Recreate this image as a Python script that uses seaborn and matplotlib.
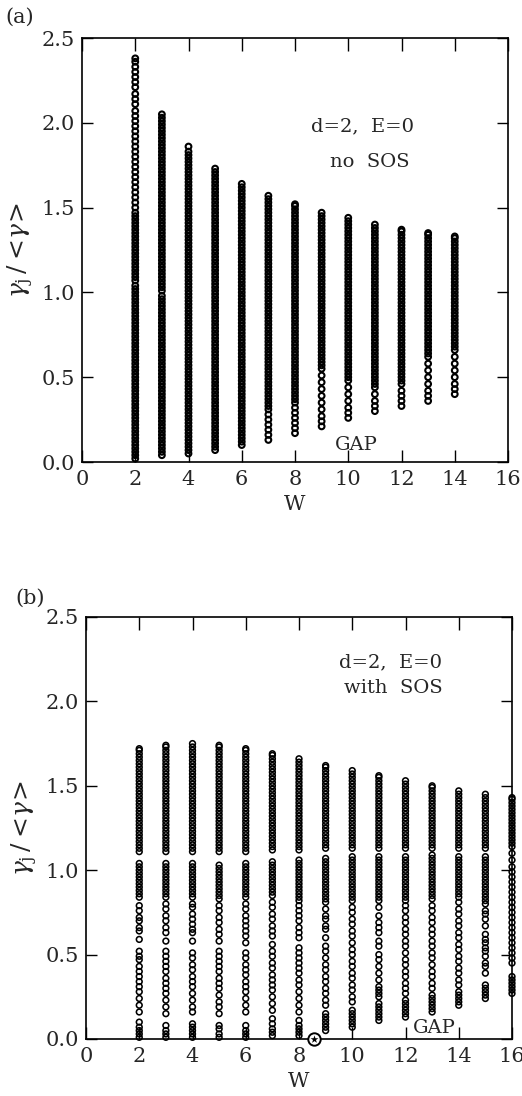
import matplotlib
matplotlib.use("Agg")
import matplotlib.pyplot as plt
import seaborn as sns
import pandas as pd

# ---------------- data (values in units of 0.01) ----------------
W_A = [2, 3, 4, 5, 6, 7, 8, 9, 10, 11, 12, 13, 14]
A2 = [2,4,6,8,10,12,14,16,18,20,22,24,26,28,30,32,34,36,38,40,42,44,46,48,50,52,54,56,58,60,62,64,66,68,70,72,74,76,78,80,82,84,86,88,90,92,94,96,98,100,102,104,107,109,111,113,115,117,119,121,123,125,127,129,131,133,135,137,139,141,143,145,147,150,153,156,159,162,165,168,171,174,177,180,183,186,189,192,195,198,201,204,207,211,214,217,221,224,227,230,233,236,238]
A3 = [4,6,8,10,12,14,16,18,20,22,24,26,28,30,32,34,36,38,40,42,44,46,48,50,52,54,56,58,60,62,64,66,68,70,72,74,76,78,80,82,84,86,88,90,92,94,96,98,101,103,105,107,109,111,113,115,117,119,121,123,125,127,129,131,133,135,137,139,141,143,145,147,149,151,153,155,157,159,161,163,165,167,169,171,173,175,177,179,181,183,185,187,189,191,193,195,197,199,201,203,205]
A4 = [5,7,9,11,13,15,17,19,21,23,25,27,29,31,33,35,37,39,41,43,45,47,49,51,53,55,57,59,61,63,65,67,69,71,73,75,77,79,81,83,85,87,89,91,93,95,97,99,101,103,105,107,109,111,113,115,117,119,121,123,125,127,129,131,133,135,137,139,141,143,145,147,149,151,153,155,157,159,161,163,165,167,169,171,173,175,177,179,181,183,186]
A5 = [7,9,11,13,15,17,19,21,23,25,27,29,31,33,35,37,39,41,43,45,47,49,51,53,55,57,59,61,63,65,67,69,71,73,75,77,79,81,83,85,87,89,91,93,95,97,99,101,103,105,107,109,111,113,115,117,119,121,123,125,127,129,131,133,135,137,139,141,143,145,147,149,151,153,155,157,159,161,163,165,167,169,171,173]
A6 = [10,12,14,16,18,20,22,24,26,28,30,32,34,36,38,40,42,44,46,48,50,52,54,56,58,60,62,64,66,68,70,72,74,76,78,80,82,84,86,88,90,92,94,96,98,100,102,104,106,108,110,112,114,116,118,120,122,124,126,128,130,132,134,136,138,140,142,144,146,148,150,152,154,156,158,160,162,164]
A7 = [13,16,19,22,25,28,31,33,35,37,39,41,43,45,47,49,51,53,55,57,59,61,63,65,67,69,71,73,75,77,79,81,83,85,87,89,91,93,95,97,99,101,103,105,107,109,111,113,115,117,119,121,123,125,127,129,131,133,135,137,139,141,143,145,147,149,151,153,155,157]
A8 = [17,20,23,26,29,32,35,37,39,41,43,45,47,49,51,53,55,57,59,61,63,65,67,69,71,73,75,77,79,81,83,85,87,89,91,93,95,97,99,101,103,105,107,109,111,113,115,117,119,121,123,125,127,129,131,133,135,137,139,141,143,145,147,149,151,152]
A9 = [21,24,27,31,35,39,43,47,51,55,57,59,61,63,65,67,69,71,73,75,77,79,81,83,85,87,89,91,93,95,97,99,101,103,105,107,109,111,113,115,117,119,121,123,125,127,129,131,133,135,137,139,141,143,145,147]
A10 = [26,29,32,36,40,44,48,50,52,54,56,58,60,62,64,66,68,70,72,74,76,78,80,82,84,86,88,90,92,94,96,98,100,102,104,106,108,110,112,114,116,118,120,122,124,126,128,130,132,134,136,138,140,142,144]
A11 = [30,33,36,40,44,46,48,50,52,54,56,58,60,62,64,66,68,70,72,74,76,78,80,82,84,86,88,90,92,94,96,98,100,102,104,106,108,110,112,114,116,118,120,122,124,126,128,130,132,134,136,138,140]
A12 = [33,36,39,42,46,48,50,52,54,56,58,60,62,64,66,68,70,72,74,76,78,80,82,84,86,88,90,92,94,96,98,100,102,104,106,108,110,112,114,116,118,120,122,124,126,128,130,132,134,136,137]
A13 = [36,39,42,46,50,54,58,62,64,66,68,70,72,74,76,78,80,82,84,86,88,90,92,94,96,98,100,102,104,106,108,110,112,114,116,118,120,122,124,126,128,130,132,134,135]
A14 = [40,43,46,50,54,58,62,66,68,70,72,74,76,78,80,82,84,86,88,90,92,94,96,98,100,102,104,106,108,110,112,114,116,118,120,122,124,126,128,130,132,133]

W_B = [2, 3, 4, 5, 6, 7, 8, 9, 10, 11, 12, 13, 14, 15, 16]
B2 = [1,3,5,7,10,16,20,24,28,31,34,37,40,43,47,49,52,59,64,66,70,72,76,79,84,86,88,90,92,94,96,98,100,102,104,
      111,113,115,117,119,121,123,125,127,129,131,133,135,137,139,141,143,145,147,149,151,153,155,157,159,161,163,165,167,169,171,172]
B3 = [1,3,5,8,15,19,23,27,30,33,36,40,43,46,49,52,58,63,66,70,73,77,80,84,86,88,90,92,94,96,98,100,102,104,
      111,113,115,117,119,121,123,125,127,129,131,133,135,137,139,141,143,145,147,149,151,153,155,157,159,161,163,165,167,169,171,173,174]
B4 = [1,3,5,7,9,16,19,23,27,31,34,37,41,44,48,51,58,63,65,68,71,74,78,80,84,86,88,90,92,94,96,98,100,102,104,
      111,113,115,117,119,121,123,125,127,129,131,133,135,137,139,141,143,145,147,149,151,153,155,157,159,161,163,165,167,169,171,173,175]
B5 = [1,3,6,8,15,19,22,26,30,33,36,40,43,46,49,52,58,62,65,69,72,76,79,83,85,87,89,91,93,95,97,99,101,103,
      111,113,115,117,119,121,123,125,127,129,131,133,135,137,139,141,143,145,147,149,151,153,155,157,159,161,163,165,167,169,171,173,174]
B6 = [1,3,5,8,16,20,24,28,31,34,38,41,44,48,51,57,61,64,67,70,73,77,80,84,86,88,90,92,94,96,98,100,102,104,
      111,113,115,117,119,121,123,125,127,129,131,133,135,137,139,141,143,145,147,149,151,153,155,157,159,161,163,165,167,169,171,172]
B7 = [2,4,6,9,12,17,21,25,29,32,35,38,42,45,49,52,56,61,64,67,71,74,78,81,85,87,89,91,93,95,97,99,101,103,105,
      112,114,116,118,120,122,124,126,128,130,132,134,136,138,140,142,144,146,148,150,152,154,156,158,160,162,164,166,168,169]
B8 = [2,4,6,8,11,16,20,24,28,32,35,39,42,45,48,51,54,60,63,66,70,73,76,79,82,84,86,88,90,92,94,96,98,100,102,104,106,
      112,114,116,118,120,122,124,126,128,130,132,134,136,138,140,142,144,146,148,150,152,154,156,158,160,162,164,166]
B9 = [5,7,9,11,13,15,20,23,27,30,34,37,41,44,48,52,55,60,65,67,71,73,77,81,83,85,87,89,91,93,95,97,99,101,103,105,107,
      113,115,117,119,121,123,125,127,129,131,133,135,137,139,141,143,145,147,149,151,153,155,157,159,161,162]
B10 = [7,9,11,13,15,17,22,25,29,32,36,39,43,46,50,53,57,61,64,68,71,75,78,82,84,86,88,90,92,94,96,98,100,102,104,106,108,
       113,115,117,119,121,123,125,127,129,131,133,135,137,139,141,143,145,147,149,151,153,155,157,159]
B11 = [11,13,15,17,19,21,25,27,29,31,35,39,43,47,50,55,58,63,66,69,73,78,82,84,86,88,90,92,94,96,98,100,102,104,106,108,
       113,115,117,119,121,123,125,127,129,131,133,135,137,139,141,143,145,147,149,151,153,155,156]
B12 = [13,15,17,19,21,23,27,30,33,37,40,44,47,51,55,58,62,65,69,72,76,79,82,84,86,88,90,92,94,96,98,100,102,104,106,108,
       113,115,117,119,121,123,125,127,129,131,133,135,137,139,141,143,145,147,149,151,153]
B13 = [16,18,20,22,24,26,30,33,37,40,44,48,51,55,58,62,65,69,72,76,79,83,85,87,89,91,93,95,97,99,101,103,105,107,109,
       113,115,117,119,121,123,125,127,129,131,133,135,137,139,141,143,145,147,149,150]
B14 = [20,22,24,26,28,32,35,39,42,46,49,53,56,60,63,67,70,74,77,81,84,86,88,90,92,94,96,98,100,102,104,106,108,
       113,115,117,119,121,123,125,127,129,131,133,135,137,139,141,143,145,147]
B15 = [24,26,28,30,32,39,43,45,49,52,54,57,59,62,67,71,74,76,80,82,84,86,88,90,92,94,96,98,100,102,104,106,108,
       113,115,117,119,121,123,125,127,129,131,133,135,137,139,141,143,145]
B16 = [27,29,31,33,35,37,45,48,51,54,57,60,63,66,69,72,75,78,81,84,87,90,93,96,99,102,106,110,
       114,116,118,120,122,124,126,128,130,132,134,136,138,140,142,143]

WC_X = [8.55]   # marked critical disorder on panel (b)
WC_Y = [0.0]

X_TICKS = [0, 2, 4, 6, 8, 10, 12, 14, 16]
Y_TICKS = [0.0, 0.5, 1.0, 1.5, 2.0, 2.5]
Y_TICKLABELS = ["0.0", "0.5", "1.0", "1.5", "2.0", "2.5"]


def build(ws, cols):
    rows = []
    for w, col in zip(ws, cols):
        for v in col:
            rows.append((w, v / 100.0))
    return pd.DataFrame(rows, columns=["W", "gamma"])


df_a = build(W_A, [A2, A3, A4, A5, A6, A7, A8, A9, A10, A11, A12, A13, A14])
df_b = build(W_B, [B2, B3, B4, B5, B6, B7, B8, B9, B10, B11, B12, B13, B14, B15, B16])

# ---------------- style ----------------
sns.set_style("ticks")
plt.rcParams["font.family"] = ["DejaVu Serif"]
plt.rcParams["mathtext.fontset"] = "dejavuserif"

fig = plt.figure(figsize=(5.22, 10.96), dpi=100)
W, H = 522.0, 1096.0
ax_a = fig.add_axes([82 / W, (H - 462) / H, 426 / W, 424 / H])
ax_b = fig.add_axes([86 / W, (H - 1039) / H, 426 / W, 422 / H])


def style_axes(ax):
    ax.set_xlim(0, 16)
    ax.set_ylim(0, 2.5)
    ax.set_xticks(X_TICKS)
    ax.set_yticks(Y_TICKS)
    ax.set_yticklabels(Y_TICKLABELS)
    ax.tick_params(axis="x", direction="in", length=9, width=1.0, top=True,
                   labelsize=15, pad=6, color="black")
    ax.tick_params(axis="y", direction="in", length=8, width=1.0, right=True,
                   labelsize=15, pad=5, color="black")
    for s in ax.spines.values():
        s.set_linewidth(1.2)
        s.set_color("black")
    ax.set_xlabel("W", fontsize=15, labelpad=4)
    ax.set_ylabel(r"$\gamma_{\rm j}\,/<\!\gamma\!>$", fontsize=18, labelpad=4)


for ax, df, lw in ((ax_a, df_a, 1.5), (ax_b, df_b, 1.15)):
    sns.scatterplot(data=df, x="W", y="gamma", ax=ax, marker="o", s=17,
                    facecolor="none", edgecolor="black", linewidth=lw,
                    legend=False, clip_on=False, zorder=3)
    style_axes(ax)

# critical-point marker on panel (b)
sns.scatterplot(x=WC_X, y=WC_Y, ax=ax_b, marker="o", s=80, facecolor="white",
                edgecolor="black", linewidth=1.4, legend=False, clip_on=False, zorder=5)
sns.scatterplot(x=WC_X, y=WC_Y, ax=ax_b, marker="*", s=35, color="black",
                linewidth=0, legend=False, clip_on=False, zorder=6)

# annotations
ax_a.text(10.55, 1.948, "d=2,  E=0", ha="center", va="baseline", fontsize=14)
ax_a.text(10.82, 1.741, "no  SOS", ha="center", va="baseline", fontsize=14)
ax_a.text(10.32, 0.071, "GAP", ha="center", va="baseline", fontsize=14)

ax_b.text(11.42, 2.202, "d=2,  E=0", ha="center", va="baseline", fontsize=14)
ax_b.text(11.53, 2.05, "with  SOS", ha="center", va="baseline", fontsize=14)
ax_b.text(13.1, 0.034, "GAP", ha="center", va="baseline", fontsize=14)

fig.text(5 / W, 1 - 17 / H, "(a)", ha="left", va="center", fontsize=15)
fig.text(15 / W, 1 - 598 / H, "(b)", ha="left", va="center", fontsize=15)

fig.savefig("out.png", dpi=100)
